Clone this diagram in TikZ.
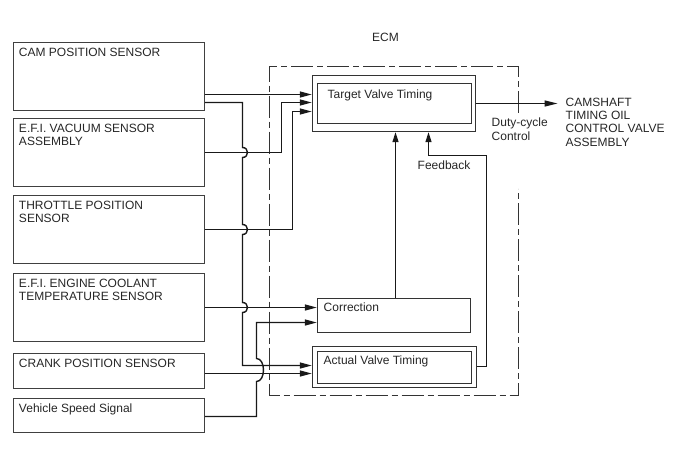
\documentclass[tikz,border=0pt]{standalone}
\usepackage{fontspec}
\setmainfont{Liberation Sans}
\usetikzlibrary{arrows.meta}
\begin{document}
\begin{tikzpicture}[x=1pt,y=-1pt,
  every node/.style={font=\fontsize{12}{13.4}\selectfont, text=black!85},
  ln/.style={line width=1.4pt, draw=black!90},
  arr/.style={ln, -{Triangle[length=12pt,width=6pt]}},
  sbox/.style={draw=black!75, line width=1.4pt, minimum width=191, minimum height=#1, inner sep=0},
  ibox/.style={draw=black!80, line width=1.4pt, minimum width=#1, inner sep=0},
  txt/.style={anchor=north west, inner sep=0, align=left},
  ecm/.style={draw=black!80, line width=1.4pt, dash pattern=on 22pt off 4pt on 6pt off 4pt}]
\useasboundingbox (0,0) rectangle (688,463);
\begin{scope}[shift={(0.5,0.5)}]
% sensor boxes
\node[sbox=68] (cam)   at (108.5,76)  {};
\node[sbox=68] (vac)   at (108.5,152) {};
\node[sbox=68] (thr)   at (108.5,229) {};
\node[sbox=68] (cool)  at (108.5,307) {};
\node[sbox=35] (crank) at (108.5,370.5) {};
\node[sbox=34] (vss)   at (108.5,415) {};

\node[txt] (camT)   at ([shift={(6pt,-6pt)}]cam.north west)   {CAM POSITION SENSOR};
\node[txt] (vacT)   at ([shift={(6pt,-6pt)}]vac.north west)   {E.F.I. VACUUM SENSOR\\ASSEMBLY};
\node[txt] (thrT)   at ([shift={(6pt,-6pt)}]thr.north west)   {THROTTLE POSITION\\SENSOR};
\node[txt] (coolT)  at ([shift={(6pt,-6pt)}]cool.north west)  {E.F.I. ENGINE COOLANT\\TEMPERATURE SENSOR};
\node[txt] (crankT) at ([shift={(6pt,-6pt)}]crank.north west) {CRANK POSITION SENSOR};
\node[txt] (vssT)   at ([shift={(6pt,-6pt)}]vss.north west)   {Vehicle Speed Signal};

% ECM frame
\draw[ecm] (518,112) -- (518,66) -- (269,66) -- (269,395) -- (518,395) -- (518,188);
\node[anchor=base] (ecmT) at (385,41) {ECM};

% ECM blocks
\node[ibox=163, minimum height=56] (tgt) at (393.5,103) {};
\node[ibox=154, minimum height=40] (tgtin) at (394,103) {};
\node[txt] (tgtT) at (327,89) {Target Valve Timing};

\node[ibox=153, minimum height=34] (corr) at (393.5,315) {};
\node[txt] (corrT) at (323,302) {Correction};

\node[ibox=164, minimum height=41] (act) at (394,366.5) {};
\node[ibox=154, minimum height=32] (actin) at (394,367) {};
\node[txt] (actT) at (323,355) {Actual Valve Timing};

% output
\coordinate (outend) at (557,103);
\draw[arr, -{Triangle[length=13pt,width=6pt]}] (tgt.east) -- (outend);
\node[txt] (outT) at (565,97) {CAMSHAFT\\TIMING OIL\\CONTROL VALVE\\ASSEMBLY};
\node[txt] (dutyT) at (491,117.5) {Duty-cycle\\Control};

% inputs to target
\draw[arr] ([yshift=-18pt]cam.east) -- (tgt.west |- 0,94);
\draw[arr] (vac.east) -- (281,152) -- (281,102) -- (tgt.west |- 0,102);
\draw[arr] (thr.east) -- (292,229) -- (292,111) -- (tgt.west |- 0,111);

% cam second line with hops to actual
\draw[arr] ([yshift=-26pt]cam.east) -- (242,102) -- (242,147)
  .. controls (248.67,147) and (248.67,157) .. (242,157) -- (242,224)
  .. controls (248.67,224) and (248.67,234) .. (242,234) -- (242,302)
  .. controls (248.67,302) and (248.67,312) .. (242,312) -- (242,365)
  -- (act.west |- 0,365);

% coolant to correction
\draw[arr] (cool.east) -- (corr.west |- 0,307);
% vehicle speed to correction (with hop)
\draw[arr] ([yshift=-1pt]vss.east) -- (256,416) -- (256,381)
  .. controls (265.3,381) and (265.3,358) .. (256,358) -- (256,322) -- (corr.west |- 0,322);
% crank to actual
\draw[arr] ([yshift=-2.5pt]crank.east) -- (act.west |- 0,373);

% correction up to target
\draw[arr, -{Triangle[length=10pt,width=6pt]}] (corr.north -| 395,0) -- (tgt.south -| 395,0);
% feedback
\draw[arr, -{Triangle[length=10pt,width=6pt]}] ([yshift=0.5pt]act.east) -- (486,366) -- (486,155) -- (428,155) -- (tgt.south -| 428,0);
\node[txt] (fbT) at (417,160.5) {Feedback};
\end{scope}
\end{tikzpicture}
\end{document}
